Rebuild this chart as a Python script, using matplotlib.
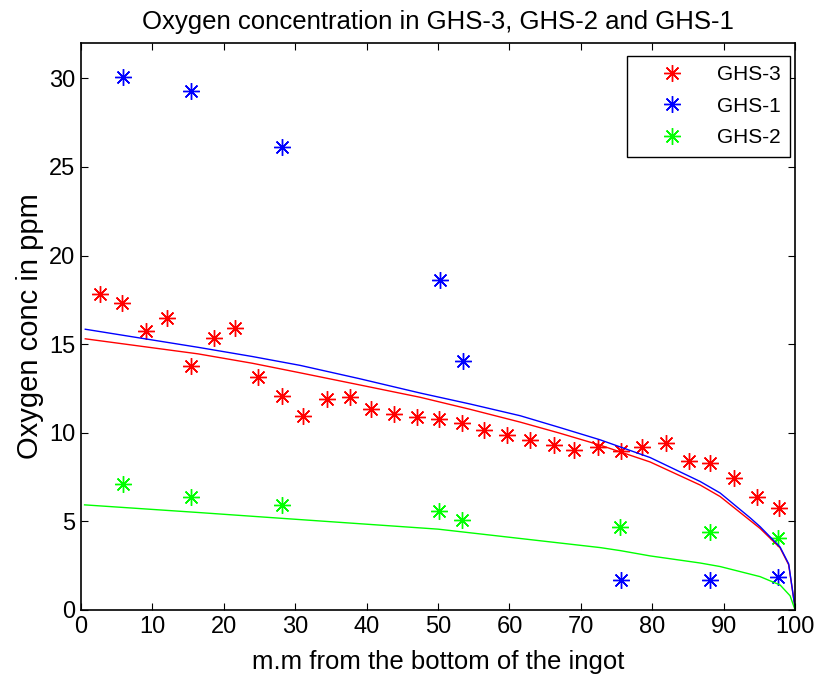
import numpy as np
import matplotlib.pyplot as plt

plt.rcParams['font.family'] = ['Liberation Sans', 'DejaVu Sans']

# measured oxygen concentration (ppm) vs distance from ingot bottom (mm)
ghs3_x = [2.7, 5.8, 9.1, 12.1, 15.4, 18.6, 21.6, 24.8, 28.1, 31.1, 34.5, 37.7, 40.6,
          43.8, 47.1, 50.1, 53.4, 56.4, 59.7, 62.9, 66.2, 69.1, 72.4, 75.6, 78.6, 81.9,
          85.2, 88.1, 91.4, 94.6, 97.8]
ghs3_y = [17.8, 17.3, 15.72, 16.48, 13.75, 15.35, 15.9, 13.12, 12.09, 10.96, 11.9, 11.99,
          11.34, 11.07, 10.89, 10.77, 10.55, 10.15, 9.85, 9.57, 9.28, 9.0, 9.19, 8.95, 9.19,
          9.42, 8.38, 8.29, 7.44, 6.4, 5.75]

ghs1_x = [5.9, 15.4, 28.1, 50.3, 53.5, 75.6, 88.1, 97.6]
ghs1_y = [30.1, 29.3, 26.1, 18.6, 14.07, 1.69, 1.69, 1.85]

ghs2_x = [5.9, 15.4, 28.1, 50.1, 53.4, 75.5, 88.1, 97.6]
ghs2_y = [7.12, 6.4, 5.93, 5.61, 5.08, 4.67, 4.42, 4.05]

# fitted segregation curves
fit_x = [0.6, 16.4, 24.0, 30.7, 39.0, 47.5, 54.5, 61.5, 67.0, 72.7, 79.7, 86.7, 89.5,
         93.7, 95.1, 97.9, 99.1, 100.0]
fit1_y = [15.84, 14.82, 14.3, 13.8, 13.05, 12.24, 11.62, 10.96, 10.3, 9.6, 8.6, 7.25, 6.6,
          5.2, 4.7, 3.55, 2.6, 0.1]
fit3_y = [15.3, 14.45, 13.92, 13.38, 12.7, 12.0, 11.32, 10.6, 9.98, 9.3, 8.35, 7.05, 6.4,
          5.05, 4.6, 3.5, 2.55, 0.1]
fit2_x = [0.5, 16.4, 26.7, 50.0, 72.7, 75.5, 79.7, 86.7, 89.5, 95.1, 97.9, 99.3, 100.0]
fit2_y = [5.93, 5.5, 5.21, 4.56, 3.52, 3.35, 3.05, 2.65, 2.45, 1.88, 1.41, 0.8, 0.0]

star = (8, 2, 0)

fig = plt.figure(figsize=(8.18, 6.8), dpi=100)
ax = fig.add_axes([0.099, 0.103, 0.873, 0.834])

ax.plot(ghs3_x, ghs3_y, ls='none', marker=star, ms=12, mew=1.0, color='red', label='GHS-3')
ax.plot(ghs1_x, ghs1_y, ls='none', marker=star, ms=12, mew=1.0, color='blue', label='GHS-1')
ax.plot(ghs2_x, ghs2_y, ls='none', marker=star, ms=12, mew=1.0, color='lime', label='GHS-2')

ax.plot(fit_x, fit3_y, color='red', lw=1)
ax.plot(fit_x, fit1_y, color='blue', lw=1)
ax.plot(fit2_x, fit2_y, color='lime', lw=1)

ax.set_xlim(0, 100)
ax.set_ylim(0, 32)
ax.set_xticks(np.arange(0, 101, 10))
ax.set_yticks(np.arange(0, 31, 5))
ax.tick_params(direction='in', top=True, right=True, labelsize=17, length=5, pad=4)
for s in ax.spines.values():
    s.set_linewidth(1.2)

ax.set_title('Oxygen concentration in GHS-3, GHS-2 and GHS-1', fontsize=18.5, pad=10)
ax.set_xlabel('m.m from the bottom of the ingot', fontsize=18.5, labelpad=9)
ax.set_ylabel('Oxygen conc in ppm', fontsize=21, labelpad=4)

leg = ax.legend(loc='upper right', bbox_to_anchor=(0.993, 0.977), borderaxespad=0,
                fontsize=15, fancybox=False, edgecolor='black', framealpha=1,
                handlelength=3.4, handletextpad=0.45, labelspacing=0.6, borderpad=0.45)
leg.get_frame().set_linewidth(1.0)

fig.savefig('out.png', dpi=100)
